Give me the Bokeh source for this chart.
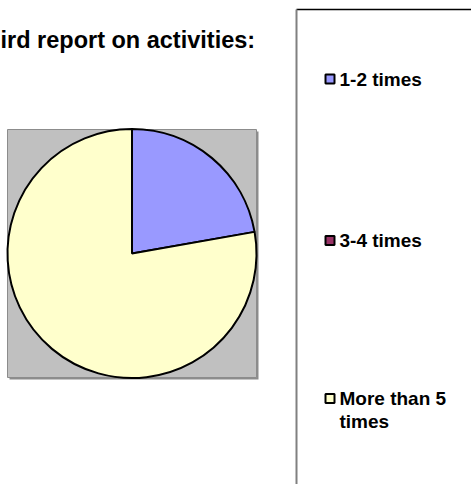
import numpy as np
from bokeh.plotting import figure
from bokeh.models import Range1d, ColumnDataSource
from bokeh.core.properties import value
from bokeh.embed import file_html
from bokeh.resources import INLINE

# ---- data ----
title_text = "ird report on activities:"
categories = ["1-2 times", "3-4 times", "More than 5 times"]
legend_labels = ["1-2 times", "3-4 times", "More than 5\ntimes"]
values = [2, 0, 7]
colors = ["#9999FF", "#993366", "#FFFFCC"]

W, H = 471, 484
p = figure(width=W, height=H, output_backend="svg", toolbar_location=None,
           x_range=Range1d(0, W), y_range=Range1d(0, H), min_border=0)
p.axis.visible = False
p.grid.visible = False
p.outline_line_color = None
p.background_fill_color = "white"
p.border_fill_color = "white"

def Y(y):
    return H - y

FONT = value("Liberation Sans")

# title
p.text(x=[0], y=[Y(39)], text=[title_text],
       text_font=FONT, text_font_size="23.5px",
       text_font_style="bold", text_color="black", text_baseline="alphabetic", text_align="left")

# plot area (grey square with shadow)
px0, px1, py0, py1 = 7, 256, 129, 377
p.quad(left=[px0 + 2], right=[px1 + 2], top=[Y(py0 + 2)], bottom=[Y(py1 + 2)],
       fill_color="#8C8C8C", line_color=None)
p.quad(left=[px0], right=[px1], top=[Y(py0)], bottom=[Y(py1)],
       fill_color="#C0C0C0", line_color="#8C8C8C", line_width=1)

# pie
vals = np.array(values, dtype=float)
frac = vals / vals.sum()
cum = np.concatenate([[0.0], np.cumsum(frac)])
start = np.pi / 2 - cum[:-1] * 2 * np.pi
end = np.pi / 2 - cum[1:] * 2 * np.pi
mask = vals > 0
src = ColumnDataSource(dict(
    x=[131.5] * int(mask.sum()), y=[Y(253)] * int(mask.sum()),
    start=list(start[mask]), end=list(end[mask]),
    color=[c for c, m in zip(colors, mask) if m]))
p.wedge(x="x", y="y", radius=124.5, start_angle="start", end_angle="end",
        direction="clock", fill_color="color", line_color="black", line_width=2,
        source=src)

# legend box
p.segment(x0=[296], y0=[Y(9)], x1=[W + 5], y1=[Y(9)], line_color="black", line_width=1.5)
p.segment(x0=[296], y0=[Y(9)], x1=[296], y1=[Y(H + 5)], line_color="#808080", line_width=2)

ly = [78.5, 240, 398]
p.rect(x=[329.5] * 3, y=[Y(v) for v in ly], width=9, height=9,
       fill_color=colors, line_color="black", line_width=2)

line_gap = 23
tx, ty, tt = [], [], []
for yy, lab in zip(ly, legend_labels):
    for k, part in enumerate(lab.split("\n")):
        tx.append(339)
        ty.append(Y(yy + k * line_gap))
        tt.append(part)
p.text(x=tx, y=ty, text=tt, text_font=FONT,
       text_font_size="19px", text_font_style="bold", text_color="black",
       text_baseline="middle", text_align="left")

open("out.html", "w").write(file_html(p, INLINE))
